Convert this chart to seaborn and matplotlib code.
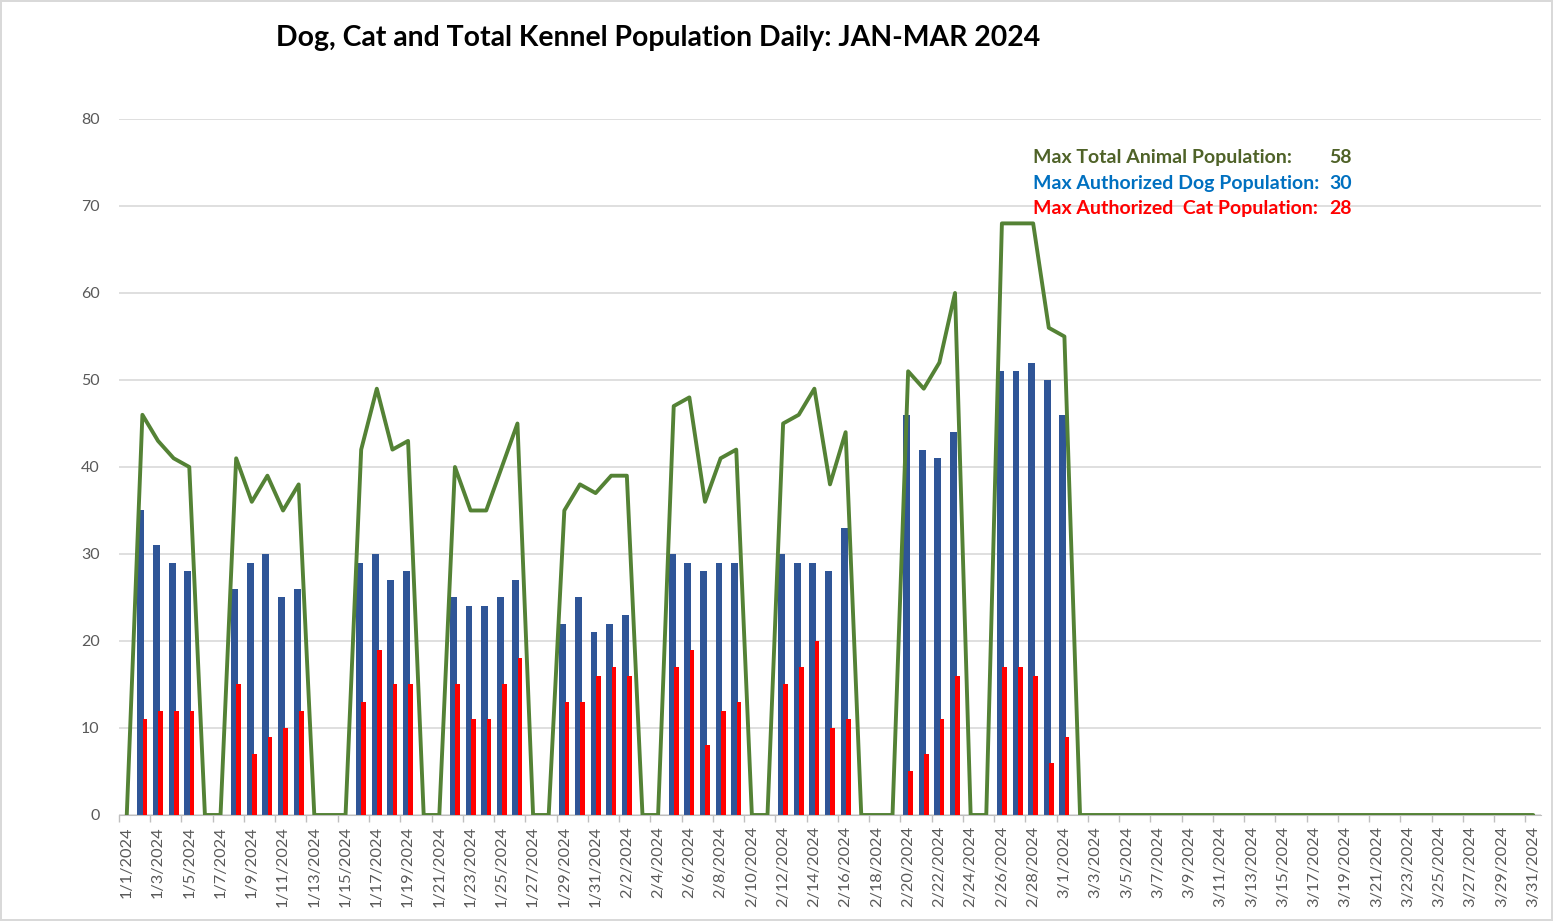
import numpy as np
import pandas as pd
import matplotlib.pyplot as plt
import seaborn as sns

# Daily counts, 1/1/2024 .. 3/31/2024 (91 days); zero on closed days
dogs = [0, 35, 31, 29, 28, 0, 0, 26, 29, 30, 25, 26, 0, 0,
        0, 29, 30, 27, 28, 0, 0, 25, 24, 24, 25, 27, 0, 0,
        22, 25, 21, 22, 23, 0, 0, 30, 29, 28, 29, 29, 0, 0,
        30, 29, 29, 28, 33, 0, 0, 0, 46, 42, 41, 44, 0, 0,
        51, 51, 52, 50, 46] + [0] * 30
cats = [0, 11, 12, 12, 12, 0, 0, 15, 7, 9, 10, 12, 0, 0,
        0, 13, 19, 15, 15, 0, 0, 15, 11, 11, 15, 18, 0, 0,
        13, 13, 16, 17, 16, 0, 0, 17, 19, 8, 12, 13, 0, 0,
        15, 17, 20, 10, 11, 0, 0, 0, 5, 7, 11, 16, 0, 0,
        17, 17, 16, 6, 9] + [0] * 30
totals = [d + c for d, c in zip(dogs, cats)]

dates = pd.date_range('2024-01-01', '2024-03-31', freq='D')
date_labels = [f"{d.month}/{d.day}/{d.year}" for d in dates]
day = np.arange(len(dates))

notes = [("Max Total Animal Population:", "58", "#4F6228"),
         ("Max Authorized Dog Population:", "30", "#0070C0"),
         ("Max Authorized  Cat Population:", "28", "#FF0000")]

df = pd.DataFrame({'day': day, 'dogs': dogs, 'cats': cats, 'total': totals})

sns.set_style('white')
plt.rcParams['font.family'] = ['Lato', 'DejaVu Sans']

fig = plt.figure(figsize=(15.53, 9.21), dpi=100, edgecolor='#D9D9D9', linewidth=1.5)
ax = fig.add_axes([0.0766, 0.1151, 0.9157, 0.7557])

sns.barplot(x=df['day'] - 0.1, y=df['dogs'], native_scale=True, width=0.44,
            color='#2F5597', saturation=1, errorbar=None, linewidth=0, ax=ax, zorder=2)
sns.barplot(x=df['day'] + 0.17, y=df['cats'], native_scale=True, width=0.3,
            color='#FF0000', saturation=1, errorbar=None, linewidth=0, ax=ax, zorder=3)
sns.lineplot(x=df['day'], y=df['total'], color='#548235', linewidth=2.8, ax=ax, zorder=4)

ax.set_xlim(-0.5, len(dates) - 0.5)
ax.set_ylim(0, 80)
ax.set_yticks(range(0, 81, 10))
ax.tick_params(axis='y', labelsize=11.5, labelcolor='#595959', length=0, pad=14)
ax.set_xticks(day[::2])
ax.set_xticklabels(date_labels[::2], rotation=90)
ax.set_xticks(np.arange(-0.5, len(dates), 2), minor=True)
ax.tick_params(axis='x', which='major', labelsize=11.8, labelcolor='#595959', length=0, pad=8)
ax.tick_params(axis='x', which='minor', length=5, color='#BFBFBF', width=1, bottom=True)
ax.grid(axis='y', color='#D9D9D9', linewidth=1.2)
ax.set_axisbelow(True)
ax.set_xlabel('')
ax.set_ylabel('')
for s in ['top', 'right', 'left']:
    ax.spines[s].set_visible(False)
ax.spines['bottom'].set_color('#BFBFBF')

ys = [75.6, 72.6, 69.7]
for (label, num, col), y in zip(notes, ys):
    ax.text(58.0, y, label, color=col, fontsize=14, fontweight='bold', va='center', ha='left')
    ax.text(78.4, y, num, color=col, fontsize=14, fontweight='bold', va='center', ha='right')

fig.text(0.4237, 0.9587, "Dog, Cat and Total Kennel Population Daily: JAN-MAR 2024",
         fontsize=20.4, fontweight='bold', ha='center', va='center', color='black')

fig.savefig('out.png', dpi=100, edgecolor=fig.get_edgecolor())
